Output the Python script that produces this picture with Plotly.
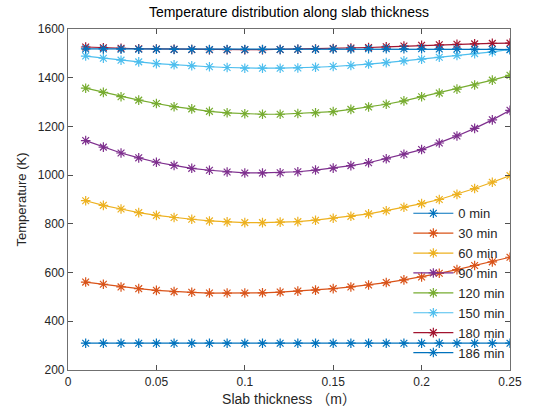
import plotly.graph_objects as go

thickness = [0.01, 0.02, 0.03, 0.04, 0.05, 0.06, 0.07, 0.08, 0.09, 0.10,
             0.11, 0.12, 0.13, 0.14, 0.15, 0.16, 0.17, 0.18, 0.19, 0.20,
             0.21, 0.22, 0.23, 0.24, 0.25]

t_0min = [310] * 25
t_30min = [561, 552, 541, 534, 527, 522, 519, 516, 516, 516, 517, 520, 524,
           528, 534, 541, 549, 559, 570, 582, 597, 612, 629, 644, 663]
t_60min = [895, 876, 861, 846, 835, 826, 819, 812, 808, 805, 805, 807, 809,
           815, 823, 831, 841, 854, 868, 883, 900, 921, 945, 971, 998]
t_90min = [1142, 1115, 1091, 1071, 1053, 1040, 1028, 1020, 1013, 1009, 1009,
           1010, 1014, 1021, 1029, 1039, 1051, 1067, 1086, 1105, 1132, 1161,
           1192, 1227, 1266]
t_120min = [1357, 1340, 1322, 1308, 1294, 1281, 1272, 1262, 1256, 1252, 1250,
            1250, 1253, 1256, 1261, 1270, 1280, 1291, 1305, 1322, 1337, 1353,
            1370, 1390, 1410]
t_150min = [1489, 1480, 1472, 1465, 1458, 1453, 1449, 1445, 1442, 1439, 1439,
            1439, 1440, 1443, 1446, 1450, 1456, 1462, 1469, 1476, 1484, 1491,
            1499, 1506, 1516]
t_180min = [1526, 1523, 1521, 1519, 1518, 1517, 1516, 1515, 1515, 1515, 1515,
            1516, 1517, 1518, 1520, 1522, 1524, 1527, 1530, 1533, 1535, 1537,
            1539, 1541, 1542]
t_186min = [1518, 1518, 1517, 1517, 1517, 1516, 1516, 1516, 1516, 1516, 1516,
            1516, 1517, 1517, 1518, 1518, 1519, 1519, 1519, 1519, 1518, 1518,
            1517, 1516, 1515]

series_names = ["0 min", "30 min", "60 min", "90 min", "120 min", "150 min",
                "180 min", "186 min"]
series_values = [t_0min, t_30min, t_60min, t_90min, t_120min, t_150min,
                 t_180min, t_186min]
colors = ["#0072BD", "#D95319", "#EDB120", "#7E2F8E", "#77AC30", "#4DBEEE",
          "#A2142F", "#0072BD"]

fig = go.Figure()
for name, vals, c in zip(series_names, series_values, colors):
    fig.add_trace(go.Scatter(
        x=thickness, y=vals, name=name, mode="lines+markers",
        line=dict(color=c, width=1.2),
        marker=dict(symbol="asterisk-open", size=8, color=c,
                    line=dict(color=c, width=1.2)),
    ))

font_family = "Liberation Sans, Arial, Noto Sans CJK SC, sans-serif"
axis_common = dict(
    showline=True, linecolor="#707070", linewidth=1.2, mirror="ticks",
    ticks="inside", ticklen=5, tickcolor="#505050", showgrid=False,
    zeroline=False, tickfont=dict(size=12, color="#262626", family=font_family),
)

fig.update_layout(
    width=534, height=416,
    margin=dict(l=68, r=18, t=29, b=44),
    paper_bgcolor="white", plot_bgcolor="white",
    font=dict(family=font_family, color="#262626"),
    title=dict(text="Temperature distribution along slab thickness",
               x=0.5, xref="paper", xanchor="center", y=0.972, yanchor="middle",
               font=dict(size=14, color="#000000")),
    xaxis=dict(range=[0, 0.25], tickvals=[0, 0.05, 0.1, 0.15, 0.2, 0.25],
               ticktext=["0", "0.05", "0.1", "0.15", "0.2", "0.25"],
               title=dict(text="Slab thickness （m）", standoff=6,
                          font=dict(size=14, color="#262626")),
               **axis_common),
    yaxis=dict(range=[200, 1600], dtick=200,
               title=dict(text="Temperature (K)", standoff=8,
                          font=dict(size=13, color="#262626")),
               **axis_common),
    legend=dict(x=0.77, y=0.005, xanchor="left", yanchor="bottom",
                bgcolor="rgba(0,0,0,0)", borderwidth=0,
                font=dict(size=13, color="#262626"),
                tracegroupgap=0, itemwidth=40),
    showlegend=True,
)

fig.write_html("out.html")
